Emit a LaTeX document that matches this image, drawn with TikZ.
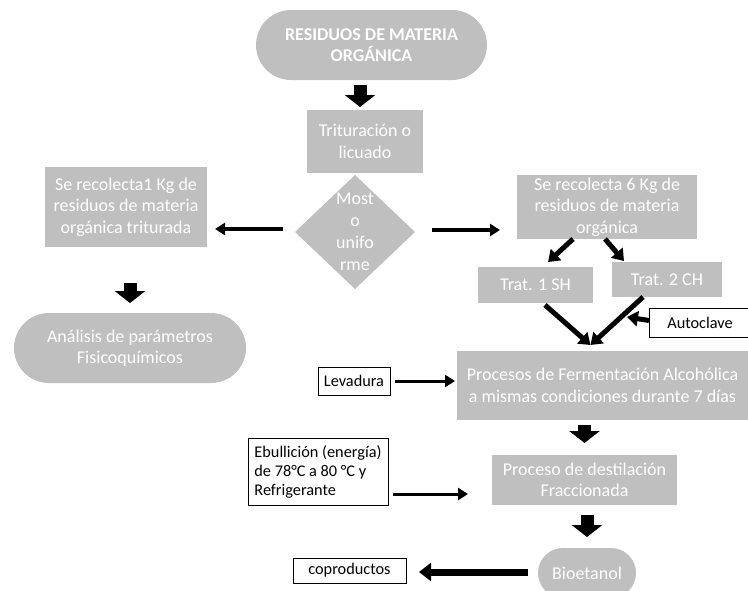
\documentclass[tikz,border=0pt]{standalone}
\usepackage{fontspec}
\setmainfont{Carlito}
\usepackage{xcolor}
\usepackage{tikz}
\usetikzlibrary{arrows.meta,positioning,shapes.geometric,shapes.misc}
\definecolor{boxgray}{RGB}{191,191,191}
\tikzset{
 box/.style={rectangle, fill=boxgray, text=white, align=center, inner sep=1pt, outer sep=0pt, font=\fontsize{18}{21.5}\selectfont},
 term/.style={box, rounded rectangle},
 decision/.style={diamond, fill=boxgray, inner sep=0pt, outer sep=0pt},
 note/.style={rectangle, draw=black, line width=1pt, fill=white, align=left, inner sep=3pt, outer sep=0pt, font=\fontsize{16.3}{19}\selectfont},
 blockarrow/.style={line width=13pt, -{Triangle[length=12pt,width=30pt]}},
 thinarrow/.style={line width=3.5pt, -{Triangle[length=10pt,width=12pt]}},
 thickarrow/.style={line width=5pt, -{Triangle[length=11pt,width=15pt]}},
}
\begin{document}
\begin{tikzpicture}[x=1pt,y=1pt]
\useasboundingbox (0,0) rectangle (748,-590);
% nodes
\node[term, font=\fontsize{18}{21.5}\selectfont\bfseries, minimum width=233pt, minimum height=70pt] (res) at (371.5,-45) {RESIDUOS DE MATERIA\\ORGÁNICA};%
\node[box, minimum width=116pt, minimum height=63pt, below=30pt of res, xshift=-6.5pt] (trit) {Trituración o\\licuado};%
\node[decision, minimum width=120pt, minimum height=114pt, below=2pt of trit, xshift=-10pt,
 label={[text=white, align=center, font=\fontsize{18}{22}\selectfont]center:{Most\\o\\unifo\\rme}}] (most) {};%
% left branch
\node[box, minimum width=162pt, minimum height=80pt, left=88pt of most, yshift=25pt] (rec1) {Se recolecta1 Kg de\\residuos de materia\\orgánica triturada};%
\node[term, minimum width=234pt, minimum height=70pt, below=66pt of rec1, xshift=4pt] (ana) {Análisis de parámetros\\Fisicoquímicos};%
% right branch
\node[box, minimum width=180pt, minimum height=64pt, right=102pt of most, yshift=25pt] (rec6) {Se recolecta 6 Kg de\\residuos de materia\\orgánica};%
\node[box, minimum width=115pt, minimum height=36pt, below=28pt of rec6, xshift=-71.5pt] (t1) {Trat. 1 SH};%
\node[box, minimum width=110pt, minimum height=35pt, right=19pt of t1, yshift=5.5pt] (t2) {Trat. 2 CH};%
\node[note, minimum width=102pt, minimum height=29pt, below=11pt of t2, xshift=33pt] (auto) {Autoclave};%
\node[box, minimum width=291pt, minimum height=69pt, below=48pt of t1, xshift=67pt] (ferm) {Procesos de Fermentación Alcohólica\\a mismas condiciones durante 7 días};%
\node[note, minimum width=72pt, minimum height=28pt, left=67pt of ferm, yshift=4.5pt] (lev) {Levadura};%
\node[box, minimum width=185pt, minimum height=50pt, below=35pt of ferm, xshift=-18pt] (dest) {Proceso de destilación\\Fraccionada};%
\node[note, minimum width=140pt, minimum height=67pt, left=104pt of dest, yshift=8.5pt] (ebu) {Ebullición (energía)\\de 78°C a 80 °C y\\Refrigerante};%
\node[term, minimum width=100pt, minimum height=50pt, below=43pt of dest, xshift=2.5pt] (bio) {Bioetanol};%
\node[note, minimum width=113pt, minimum height=25pt, left=132pt of bio, yshift=2.5pt] (cop) {coproductos};%
\coordinate[above=6pt of ferm.north, xshift=-12pt] (fin);

% edges
\draw[blockarrow, shorten <=5pt, shorten >=3pt] ([xshift=-11.5pt]res.south) -- ([xshift=-11.5pt]res.south |- trit.north);
\draw[blockarrow, shorten <=36pt, shorten >=10pt] (ana.north |- rec1.south) -- (ana.north);
\draw[blockarrow, shorten <=5pt, shorten >=12pt] (dest.north |- ferm.south) -- (dest.north);
\draw[blockarrow, shorten <=10pt, shorten >=11pt] (bio.north |- dest.south) -- (bio.north);
\draw[thinarrow, shorten <=12pt, shorten >=8pt] ([yshift=3pt]most.west) -- ([yshift=3pt]most.west -| rec1.east);
\draw[thinarrow, shorten <=17pt, shorten >=17pt] ([yshift=2pt]most.east) -- ([yshift=2pt]most.east -| rec6.west);
\draw[thinarrow, line width=3pt, shorten <=5pt, shorten >=2pt] (lev.east) -- (lev.east -| ferm.west);
\draw[thinarrow, line width=3pt, shorten <=5pt, shorten >=24pt] ([yshift=-22.5pt]ebu.east) -- ([yshift=-22.5pt]ebu.east -| dest.west);
\draw[thickarrow, line width=7pt, -{Triangle[length=12pt,width=18pt]}, shorten <=10pt, shorten >=13pt] ([yshift=1pt]bio.west) -- ([yshift=1pt]bio.west -| cop.east);
\draw[thickarrow] ([xshift=-34pt]rec6.south) -- ([xshift=12.5pt,yshift=5pt]t1.north);
\draw[thickarrow] ([xshift=-2pt]rec6.south) -- ([xshift=-43pt,yshift=1pt]t2.north);
\draw[thickarrow] ([xshift=9.5pt,yshift=-2pt]t1.south) -- (fin);
\draw[thickarrow] ([xshift=-24pt]t2.south) -- coordinate[pos=0.4] (hit) (fin);
%\draw[thickarrow] (auto.west) -- (t2.south);
\draw[thickarrow, shorten >=5pt] ([yshift=2pt]auto.west) -- (hit);
\end{tikzpicture}
\end{document}
